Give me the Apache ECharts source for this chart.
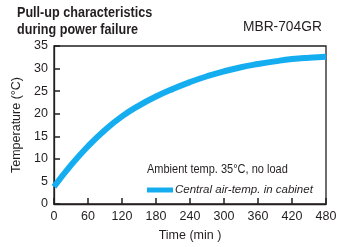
<!DOCTYPE html>
<html>
<head>
<meta charset="utf-8">
<script src="https://cdn.jsdelivr.net/npm/echarts@6/dist/echarts.min.js"></script>
<style>
  html, body { margin: 0; padding: 0; background: #fff; }
  #chart { width: 346px; height: 247px; }
</style>
</head>
<body>
<div id="chart"></div>
<script>
// minutes since power failure
var times = [0, 30, 60, 90, 120, 150, 180, 210, 240, 270, 300, 330, 360, 390, 420, 450, 480];
// central air temperature in cabinet (°C)
var cabinetTemp = [3.8, 8.6, 12.8, 16.4, 19.4, 21.8, 23.8, 25.5, 27.0, 28.3, 29.4, 30.3, 31.0, 31.6, 32.1, 32.4, 32.6];
var xTicks = [0, 60, 120, 180, 240, 300, 360, 420, 480];
var yTicks = [0, 5, 10, 15, 20, 25, 30, 35];

var fnt = '"Liberation Sans Narrow", "Liberation Sans", sans-serif';
var ink = '#231f20';
var blue = '#14aef0';

var chart = echarts.init(document.getElementById('chart'));

var points = [];
for (var i = 0; i < times.length; i++) {
    points.push([times[i], cabinetTemp[i]]);
}

var option = {
    animation: false,
    textStyle: { fontFamily: fnt, color: ink },
    grid: { left: 54, right: 20, top: 46, bottom: 38, show: true, borderColor: ink, borderWidth: 1.3 },
    graphic: [
        { type: 'text', x: 17, y: 5, scaleX: 0.9, style: { text: 'Pull-up characteristics\nduring power failure', font: 'bold 14px ' + fnt, fill: ink, lineHeight: 17 } },
        { type: 'text', x: 243, y: 19, scaleX: 0.95, style: { text: 'MBR-704GR', font: '14.5px ' + fnt, fill: ink } },
        { type: 'text', x: 147, y: 163, scaleX: 0.88, style: { text: 'Ambient temp. 35°C, no load', font: '12.5px ' + fnt, fill: ink } }
    ],
    legend: {
        left: 142, top: 179,
        icon: 'rect', itemWidth: 26, itemHeight: 5, itemGap: 4,
        textStyle: { fontFamily: fnt, fontSize: 11.5, fontStyle: 'italic', color: ink, padding: [0, 0, 0, -3] },
        data: ['Central air-temp. in cabinet']
    },
    xAxis: {
        type: 'value', min: 0, max: 480, interval: 60,
        name: 'Time (min )', nameLocation: 'middle', nameGap: 25,
        nameTextStyle: { fontFamily: fnt, fontSize: 12.5, color: ink },
        axisLine: { lineStyle: { color: ink, width: 1.3 } },
        axisTick: { inside: true, length: 6, lineStyle: { color: ink, width: 1.5 } },
        axisLabel: { fontFamily: fnt, fontSize: 12.5, color: ink, margin: 6 },
        splitLine: { show: false }
    },
    yAxis: {
        type: 'value', min: 0, max: 35, interval: 5,
        name: 'Temperature (°C)', nameLocation: 'middle', nameGap: 28,
        nameTextStyle: { fontFamily: fnt, fontSize: 12.5, color: ink },
        axisLine: { show: true, lineStyle: { color: ink, width: 1.3 } },
        axisTick: { show: true, inside: true, length: 6, lineStyle: { color: ink, width: 1.5 } },
        axisLabel: { fontFamily: fnt, fontSize: 12.5, color: ink, margin: 6 },
        splitLine: { show: false }
    },
    series: [{
        name: 'Central air-temp. in cabinet',
        type: 'line',
        smooth: 0.5,
        showSymbol: false,
        data: points,
        lineStyle: { color: blue, width: 6 },
        itemStyle: { color: blue }
    }]
};
chart.setOption(option);
</script>
</body>
</html>
